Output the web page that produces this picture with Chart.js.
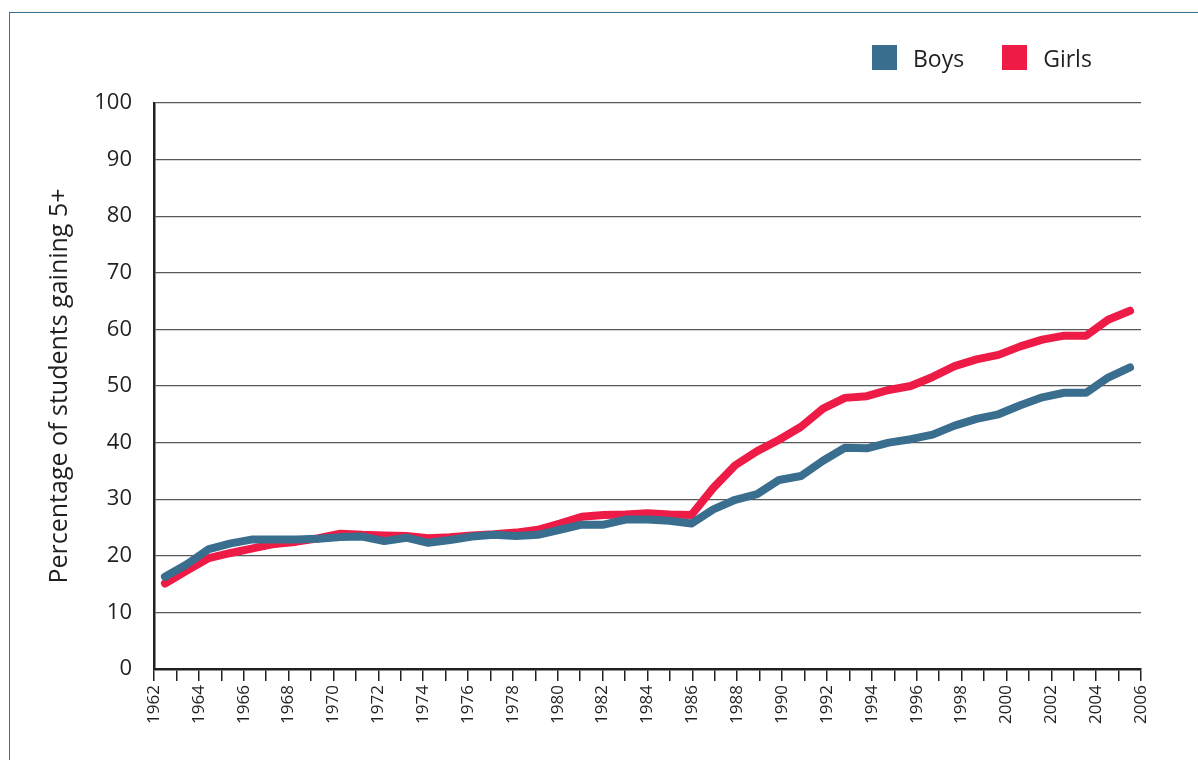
<!DOCTYPE html>
<html>
<head>
<meta charset="utf-8">
<script src="https://cdn.jsdelivr.net/npm/chart.js@4/dist/chart.umd.min.js"></script>
<style>
  html, body { margin: 0; padding: 0; background: #fff; }
  #wrap { position: relative; width: 1198px; height: 760px; overflow: hidden; }
  #frame { position: absolute; left: 9px; top: 12px; width: 1300px; height: 900px; border: 1.5px solid #3b6f94; box-sizing: border-box; }
  canvas { position: absolute; left: 0; top: 0; }
  #legend { position: absolute; top: 45px; left: 872px; display: flex; font-family: "Open Sans", sans-serif; font-size: 23px; color: #231f20; }
  .item { display: flex; align-items: center; margin-right: 38px; height: 25px; }
  .sw { width: 25px; height: 25px; margin-right: 16px; }
</style>
</head>
<body>
<div id="wrap">
  <div id="frame"></div>
  <canvas id="c" width="1198" height="760"></canvas>
  <div id="legend"></div>
</div>
<script>
const years = [1962,1963,1964,1965,1966,1967,1968,1969,1970,1971,1972,1973,1974,1975,1976,1977,1978,1979,1980,1981,1982,1983,1984,1985,1986,1987,1988,1989,1990,1991,1992,1993,1994,1995,1996,1997,1998,1999,2000,2001,2002,2003,2004,2005,2006];
const boys = [16.3,18.5,21.2,22.2,22.9,22.9,22.9,23.0,23.3,23.4,22.6,23.2,22.3,22.8,23.4,23.7,23.5,23.7,24.6,25.5,25.5,26.4,26.4,26.2,25.7,28.2,29.9,30.9,33.4,34.1,36.8,39.1,39.0,40.0,40.6,41.4,43.0,44.2,45.0,46.6,48.0,48.8,48.8,51.5,53.3];
const girls = [15.1,17.4,19.6,20.5,21.3,22.1,22.5,23.1,23.9,23.7,23.6,23.5,23.1,23.3,23.6,23.8,24.1,24.6,25.7,26.9,27.2,27.3,27.5,27.3,27.2,32.0,36.0,38.5,40.5,42.8,46.0,47.9,48.2,49.3,50.0,51.6,53.5,54.7,55.5,57.0,58.2,58.9,58.9,61.7,63.3];
const seriesNames = ['Boys', 'Girls'];
const seriesColors = ['#3a6e8f', '#ed1b45'];
const axisTitle = 'Percentage of students gaining 5+';
const xMin = 1962, xMax = 2006;

const FONT = '"Open Sans", sans-serif';
const TXT = '#231f20';

const chart = new Chart(document.getElementById('c'), {
  type: 'line',
  data: {
    labels: years.map(String),
    datasets: [
      { label: seriesNames[0], data: boys, borderColor: seriesColors[0], backgroundColor: seriesColors[0], xAxisID: 'x', yAxisID: 'y' },
      { label: seriesNames[1], data: girls, borderColor: seriesColors[1], backgroundColor: seriesColors[1], xAxisID: 'x', yAxisID: 'y' }
    ]
  },
  options: {
    responsive: false,
    devicePixelRatio: 1,
    animation: false,
    layout: { padding: { left: 33, right: 57, top: 103, bottom: 0 } },
    elements: {
      line: { borderWidth: 8, tension: 0, borderCapStyle: 'round', borderJoinStyle: 'round' },
      point: { radius: 0, hoverRadius: 0 }
    },
    plugins: { legend: { display: false }, tooltip: { enabled: false } },
    scales: {
      x: { type: 'category', display: false, offset: true },
      x2: {
        type: 'linear', position: 'bottom', min: xMin, max: xMax, offset: false,
        afterFit: s => { s.height = 91; },
        ticks: {
          stepSize: 1, autoSkip: false, maxRotation: 90, minRotation: 90, padding: 4,
          color: TXT, font: { family: FONT, size: 17 },
          callback: v => (v % 2 === 0 ? String(v) : '')
        },
        grid: { drawOnChartArea: false, drawTicks: true, tickLength: 12, color: TXT, lineWidth: 1.5 },
        border: { display: true, color: TXT, width: 2.5 }
      },
      y: {
        min: 0, max: 100,
        afterFit: s => { s.width = 121; },
        ticks: { stepSize: 10, padding: 22, color: TXT, font: { family: FONT, size: 22 } },
        grid: { drawTicks: false, color: '#58595b', lineWidth: 1.3 },
        border: { display: true, color: TXT, width: 2.5 },
        title: { display: true, text: axisTitle, color: TXT, font: { family: FONT, size: 25 }, padding: { top: 12, bottom: 0 } }
      }
    }
  }
});

const legend = document.getElementById('legend');
chart.data.datasets.forEach(ds => {
  const item = document.createElement('div');
  item.className = 'item';
  const sw = document.createElement('span');
  sw.className = 'sw';
  sw.style.background = ds.borderColor;
  const t = document.createElement('span');
  t.textContent = ds.label;
  item.appendChild(sw);
  item.appendChild(t);
  legend.appendChild(item);
});
</script>
</body>
</html>
